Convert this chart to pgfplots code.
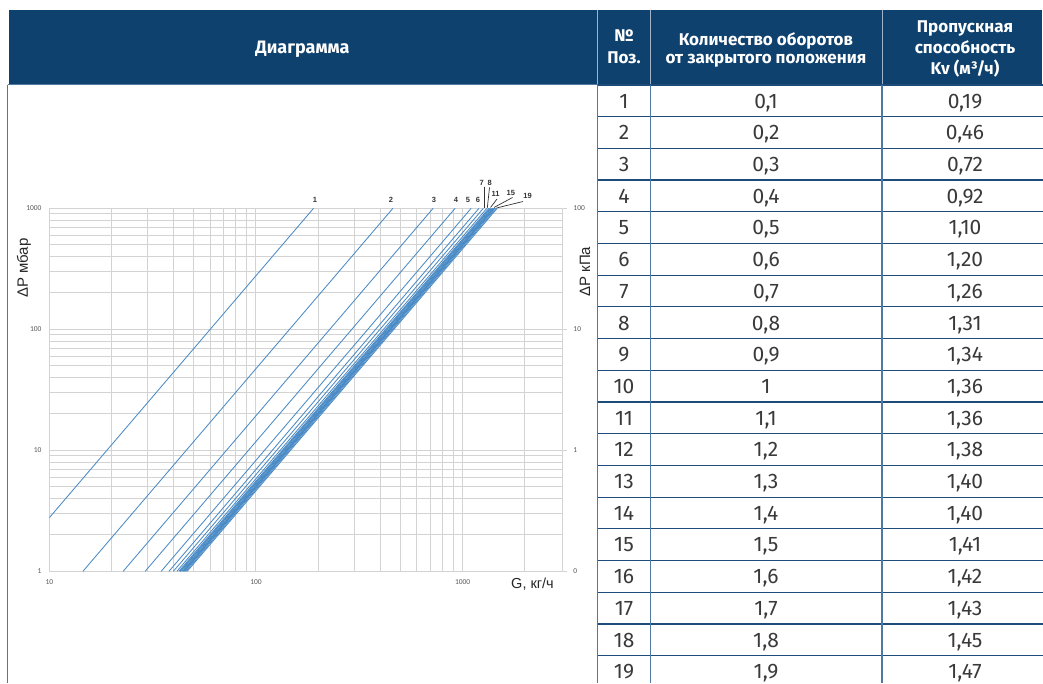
\documentclass[border=0pt]{standalone}
\usepackage{fontspec}
\setmainfont{Fira Sans}
\newfontfamily\chartfont{Liberation Sans}
\newfontfamily\tickfont{Carlito}
\usepackage{pgfplots}
\pgfplotsset{compat=1.18}
\definecolor{hdr}{HTML}{0F416E}
\definecolor{hline}{HTML}{1D4B7A}
\definecolor{vline}{HTML}{4F78A3}
\definecolor{curve}{HTML}{4A8BC6}
\definecolor{gridc}{HTML}{D3D3D3}
\definecolor{tickc}{HTML}{595959}
\definecolor{celltext}{HTML}{3A3A3A}
\definecolor{sepc}{HTML}{9FB4CB}
\tikzset{kv/.style={draw=curve, line width=0.85pt, mark=none}}
\begin{document}
\begin{tikzpicture}
\fill[white] (0,0) rectangle (1043pt,683pt);
\path[use as bounding box] (0,0) rectangle (1043pt,683pt);

\begin{axis}[
  at={(49.3pt,111.7pt)}, anchor=south west,
  scale only axis, width=513.4pt, height=363pt,
  xmode=log, ymode=log,
  xmin=10, xmax=3050, ymin=1, ymax=1000,
  xtick={10,100,1000}, xticklabels={10,100,1000},
  ytick={1,10,100,1000}, yticklabels={1,10,100,1000},
  minor xtick={20,30,40,50,60,70,80,90,200,300,400,500,600,700,800,900,2000},
  minor ytick={2,3,4,5,6,7,8,9,20,30,40,50,60,70,80,90,200,300,400,500,600,700,800,900},
  grid=both,
  major grid style={draw=gridc, line width=1pt},
  minor grid style={draw=gridc, line width=1pt},
  axis line style={draw=gridc, line width=1pt},
  major tick length=0pt, minor tick length=0pt,
  tick label style={font=\tickfont\fontsize{7.5}{8}\selectfont, text=tickc},
  yticklabel style={anchor=east, inner sep=0pt, xshift=-7.6pt},
  xticklabel style={anchor=north, inner sep=0pt, yshift=-8.5pt},
]
\addplot[kv] coordinates {(6.008,1) (190,1000)};
\addplot[kv] coordinates {(14.547,1) (460,1000)};
\addplot[kv] coordinates {(22.768,1) (720,1000)};
\addplot[kv] coordinates {(29.093,1) (920,1000)};
\addplot[kv] coordinates {(34.785,1) (1100,1000)};
\addplot[kv] coordinates {(37.947,1) (1200,1000)};
\addplot[kv] coordinates {(39.845,1) (1260,1000)};
\addplot[kv] coordinates {(41.426,1) (1310,1000)};
\addplot[kv] coordinates {(42.375,1) (1340,1000)};
\addplot[kv] coordinates {(43.007,1) (1360,1000)};
\addplot[kv] coordinates {(43.007,1) (1360,1000)};
\addplot[kv] coordinates {(43.639,1) (1380,1000)};
\addplot[kv] coordinates {(44.272,1) (1400,1000)};
\addplot[kv] coordinates {(44.272,1) (1400,1000)};
\addplot[kv] coordinates {(44.588,1) (1410,1000)};
\addplot[kv] coordinates {(44.904,1) (1420,1000)};
\addplot[kv] coordinates {(45.221,1) (1430,1000)};
\addplot[kv] coordinates {(45.853,1) (1450,1000)};
\addplot[kv] coordinates {(46.486,1) (1470,1000)};
\end{axis}

\begin{axis}[
  at={(49.3pt,111.7pt)}, anchor=south west,
  scale only axis, width=513.4pt, height=363pt,
  xmode=log, ymode=log,
  xmin=10, xmax=3050, ymin=1, ymax=1000,
  axis line style={draw=none},
  xtick=\empty,
  ytick={1,10,100,1000}, yticklabels={0,1,10,100},
  ytick pos=right, yticklabel pos=right,
  tick align=outside, major tick length=4pt, minor tick length=0pt,
  major tick style={draw=gridc, line width=0.9pt},
  tick label style={font=\tickfont\fontsize{7.5}{8}\selectfont, text=tickc},
  yticklabel style={anchor=west, inner sep=0pt, xshift=6.6pt},
]
\addplot[draw=none] coordinates {(100,10)};
\end{axis}

\begin{scope}[x=1pt,y=-1pt,shift={(0pt,683pt)}]
% headers
\fill[hdr] (9,10) rectangle (1042,85);
\draw[sepc, line width=1pt] (597.5,10) -- (597.5,85);
\draw[sepc, line width=1pt] (650.3,10) -- (650.3,85);
\draw[sepc, line width=1pt] (882,10) -- (882,85);
\node[anchor=base, text=white, font=\bfseries\fontsize{18}{20}\selectfont] at (302.5,53.5) {Диаграмма};
\node[anchor=base, text=white, font=\bfseries\fontsize{17}{19}\selectfont] at (624,42) {№};
\node[anchor=base, text=white, font=\bfseries\fontsize{17}{19}\selectfont] at (624,63.5) {Поз.};
\node[anchor=base, text=white, font=\bfseries\fontsize{17}{19}\selectfont] at (766,45.5) {Количество оборотов};
\node[anchor=base, text=white, font=\bfseries\fontsize{17}{19}\selectfont] at (766,64) {от закрытого положения};
\node[anchor=base, text=white, font=\bfseries\fontsize{17}{19}\selectfont] at (965,32.5) {Пропускная};
\node[anchor=base, text=white, font=\bfseries\fontsize{17}{19}\selectfont] at (965,53.5) {способность};
\node[anchor=base, text=white, font=\bfseries\fontsize{17}{19}\selectfont] at (965,74.5) {Kv (м³/ч)};
% left panel borders
\draw[vline, line width=1.3pt] (7.5,85) -- (7.5,683);
\draw[vline, line width=1pt] (7.5,85) -- (597.5,85);
% table grid
\foreach \k in {0,...,18} {
  \draw[hline, line width=1.2pt] (597.5,{85+\k*31.7}) -- (1043,{85+\k*31.7});
}
\draw[vline, line width=1.3pt] (597.5,85) -- (597.5,683);
\draw[vline, line width=1.3pt] (650.3,85) -- (650.3,683);
\draw[vline, line width=1.3pt] (882,85) -- (882,683);
\foreach \p/\r/\c in {1/0{,}1/0{,}19, 2/0{,}2/0{,}46, 3/0{,}3/0{,}72, 4/0{,}4/0{,}92, 5/0{,}5/1{,}10, 6/0{,}6/1{,}20, 7/0{,}7/1{,}26, 8/0{,}8/1{,}31, 9/0{,}9/1{,}34, 10/1/1{,}36, 11/1{,}1/1{,}36, 12/1{,}2/1{,}38, 13/1{,}3/1{,}40, 14/1{,}4/1{,}40, 15/1{,}5/1{,}41, 16/1{,}6/1{,}42, 17/1{,}7/1{,}43, 18/1{,}8/1{,}45, 19/1{,}9/1{,}47} {
  \node[anchor=base, text=celltext, font=\fontsize{21}{23}\selectfont] at (624,{85+(\p-0.5)*31.7+7.3}) {\p};
  \node[anchor=base, text=celltext, font=\fontsize{21}{23}\selectfont] at (766,{85+(\p-0.5)*31.7+7.3}) {\r};
  \node[anchor=base, text=celltext, font=\fontsize{21}{23}\selectfont] at (965,{85+(\p-0.5)*31.7+7.3}) {\c};
}
% axis titles
\node[rotate=90, font=\chartfont\fontsize{15}{17}\selectfont, text=black!85] at (24,268.3) {ΔP мбар};
\node[rotate=90, font=\chartfont\fontsize{15}{17}\selectfont, text=black!85] at (585,271.7) {ΔP кПа};
\node[font=\chartfont\fontsize{14.5}{16}\selectfont, text=black!85] at (532.5,584) {G, кг/ч};
% curve labels
\foreach \t/\x/\y in {1/315/200, 2/391/200, 3/434/200, 4/456/200, 5/468/200, 6/478/200, 7/481.7/183, 8/489.7/183, 11/495.5/193.7, 15/510.8/193, 19/527.5/196.3} {
  \node[font=\chartfont\bfseries\fontsize{7.5}{8}\selectfont, text=black!80, inner sep=0pt] at (\x,\y) {\t};
}
\draw[black!80, line width=0.7pt] (484,187) -- (484,208);
\draw[black!80, line width=0.7pt] (489.5,187.5) -- (487.3,208);
\draw[black!80, line width=0.7pt] (497,199) -- (490.5,207.5);
\draw[black!80, line width=0.7pt] (512.5,197.5) -- (494,207.5);
\draw[black!80, line width=0.7pt] (523,201.5) -- (496.5,208);
\end{scope}
\end{tikzpicture}
\end{document}
